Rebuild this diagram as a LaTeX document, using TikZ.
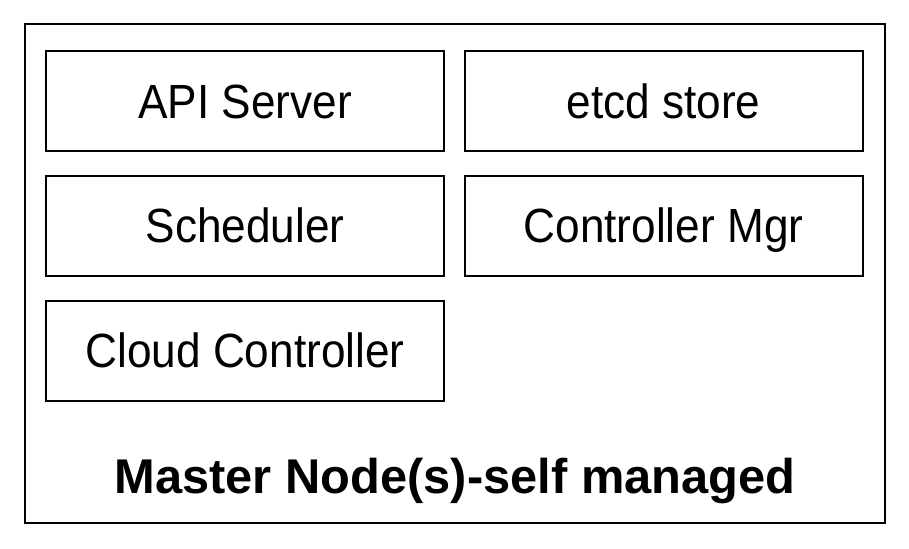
\documentclass[tikz,border=0pt]{standalone}
\usepackage{fontspec}
\setmainfont{Liberation Sans}
\newfontfamily\boxfont[FakeStretch=0.92]{Liberation Sans}
\usetikzlibrary{positioning}

\tikzset{
	compbox/.style={draw, line width=1pt, minimum width=199pt, minimum height=50pt,
		inner sep=0pt, text height=17pt, text depth=0pt,
		font=\boxfont\fontsize{24}{28}\selectfont},
	framebox/.style={draw, line width=1pt, minimum width=430pt, minimum height=249.5pt,
		inner sep=0pt},
	titletext/.style={anchor=base, inner sep=0pt, font=\bfseries\fontsize{24.4}{28}\selectfont},
}

\begin{document}
\begin{tikzpicture}[x=0.5pt, y=-0.5pt]

% parameters %{{{2

	\def\colL{245}
	\def\colR{663.5}

	\useasboundingbox (0,0) rectangle (909,548);

% frame %{{{2

	\node[framebox] (master) at (455,273.5) {};

% components %{{{2

	\node[compbox] (api)     at (\colL,101)   {API Server};
	\node[compbox] (etcd)    at (\colR,101)   {etcd store};
	\node[compbox] (sched)   at (\colL,225.5) {Scheduler};
	\node[compbox] (ctrlmgr) at (\colR,225.5) {Controller Mgr};
	\node[compbox] (cloud)   at (\colL,350.5) {Cloud Controller};

% title %{{{2

	\node[titletext] (title) at (455,493) {Master Node(s)-self managed};

\end{tikzpicture}
\end{document}
